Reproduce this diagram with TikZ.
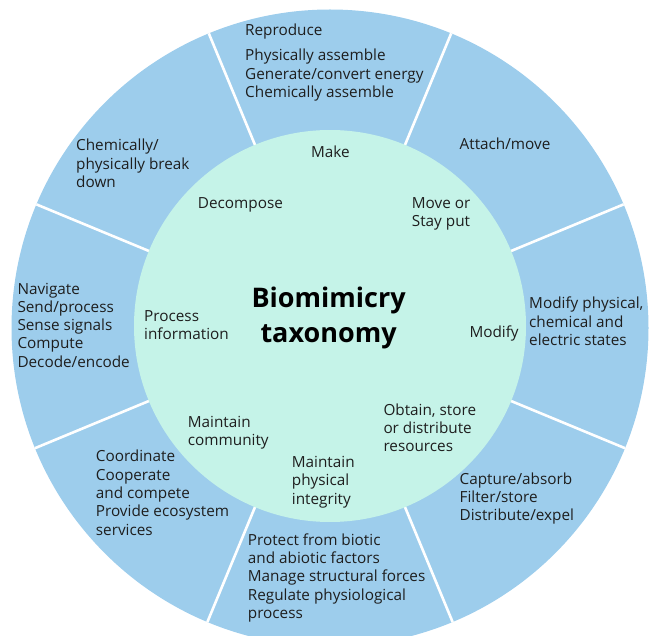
\documentclass[tikz,border=0pt]{standalone}
\usepackage{fontspec}
\setmainfont{Open Sans}
\definecolor{ringblue}{HTML}{9DCDEC}
\definecolor{coremint}{HTML}{C5F3E8}
\definecolor{ink}{HTML}{1E1E1E}

\begin{document}
\begin{tikzpicture}[x=1pt,y=-1pt,
	blurb/.style={align=left,anchor=base west,inner sep=0pt,text=ink,font=\fontsize{15.3}{18.3}\selectfont},
	heading/.style={align=center,anchor=base,inner sep=0pt,text=black,font=\fontsize{27}{35}\selectfont\bfseries},
	divider/.style={white,line width=2.6pt}]
\useasboundingbox (0,0) rectangle (654,636);
\clip (0,0) rectangle (654,636);
\coordinate (hub) at (330,326);
% outer ring with its eight dividers
\fill[ringblue] (330,328) circle [radius=318.5];
\begin{scope}
\clip (330,328) circle [radius=318.5];
\foreach \a in {22.5,67.5,...,337.5}
	\draw[divider] (hub) -- ++(\a:420);
\end{scope}
\fill[coremint] (hub) circle [radius=196];
% outer ring (base = last line)
\node[blurb]	(reproduce)	at (245,36)	{Reproduce};
\node[blurb]	(assemble)	at (245,97.5)	{Physically assemble\\Generate/convert energy\\Chemically assemble};
\node[blurb]	(breakdown)	at (76,187.5)	{Chemically/\\physically break\\down};
\node[blurb]	(attach)	at (459.5,149.5)	{Attach/move};
\node[blurb]	(signals)	at (17.3,367.3)	{Navigate\\Send/process\\Sense signals\\Compute\\Decode/encode};
\node[blurb]	(states)	at (529,345.5)	{Modify physical,\\chemical and\\electric states};
\node[blurb]	(cooperate)	at (95.7,535.2)	{Coordinate\\Cooperate\\and compete\\Provide ecosystem\\services};
\node[blurb]	(absorb)	at (459.5,521)	{Capture/absorb\\Filter/store\\Distribute/expel};
\node[blurb]	(protect)	at (247.7,618.3)	{Protect from biotic\\and abiotic factors\\Manage structural forces\\Regulate physiological\\process};
% inner circle
\node[heading]	(taxonomy)	at (328.6,342.5)	{Biomimicry\\taxonomy};
\node[blurb]	(make)		at (310.8,157.3)	{Make};
\node[blurb]	(decompose)	at (197.7,208.3)	{Decompose};
\node[blurb]	(move)		at (411.7,226.7)	{Move or\\Stay put};
\node[blurb]	(process)	at (144,340)	{Process\\information};
\node[blurb]	(modify)	at (469.3,338)	{Modify};
\node[blurb]	(obtain)	at (383.3,451.7)	{Obtain, store\\or distribute\\resources};
\node[blurb]	(community)	at (187.7,446)	{Maintain\\community};
\node[blurb]	(integrity)	at (291.7,504.3)	{Maintain\\physical\\integrity};
\end{tikzpicture}
\end{document}
